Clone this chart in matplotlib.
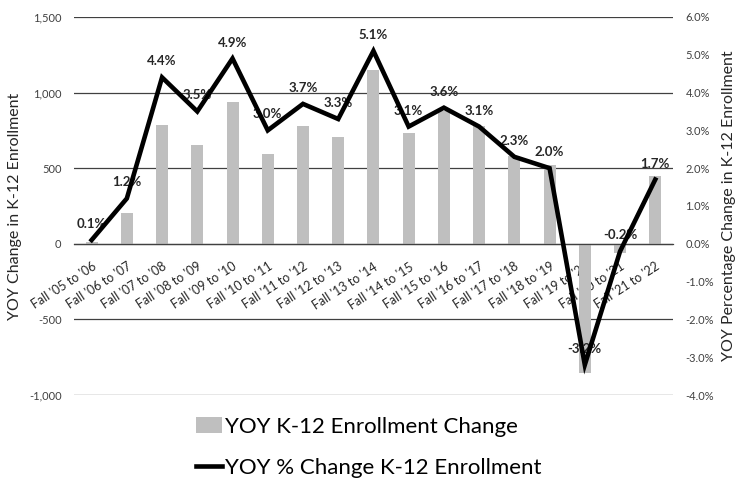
import matplotlib
matplotlib.use("Agg")
import matplotlib.pyplot as plt
from matplotlib.patches import Patch
from matplotlib.lines import Line2D

plt.rcParams['font.family'] = ['Lato', 'DejaVu Sans']

# data
periods = ["Fall '05 to '06", "Fall '06 to '07", "Fall '07 to '08", "Fall '08 to '09",
           "Fall '09 to '10", "Fall '10 to '11", "Fall '11 to '12", "Fall '12 to '13",
           "Fall '13 to '14", "Fall '14 to '15", "Fall '15 to '16", "Fall '16 to '17",
           "Fall '17 to '18", "Fall '18 to '19", "Fall '19 to '20", "Fall '20 to '21",
           "Fall '21 to '22"]
enroll_change = [10, 207, 786, 656, 938, 596, 777, 704, 1146, 733, 880, 777, 578, 519, -852, -62, 450]
pct_change = [0.1, 1.2, 4.4, 3.5, 4.9, 3.0, 3.7, 3.3, 5.1, 3.1, 3.6, 3.1, 2.3, 2.0, -3.2, -0.2, 1.7]

BAR_COL = '#bfbfbf'
GRID_COL = '#404040'
TXT_COL = '#404040'

fig = plt.figure(figsize=(7.37, 4.83), dpi=100)
ax = fig.add_axes([0.1004, 0.182, 0.8126, 0.783])
ax2 = ax.twinx()

x = list(range(len(periods)))
ax.bar(x, enroll_change, width=0.34, color=BAR_COL, zorder=2)
ax.set_ylim(-1000, 1500)
ax.set_yticks([-1000, -500, 0, 500, 1000, 1500])
ax.set_yticklabels(['-1,000', '-500', '0', '500', '1,000', '1,500'])
ax.set_xlim(-0.5, len(periods) - 0.5)
ax.grid(axis='y', color=GRID_COL, lw=0.9, zorder=0)
ax.set_axisbelow(True)
for s in ax.spines.values():
    s.set_visible(False)
ax.spines['bottom'].set_visible(True)
ax.spines['bottom'].set_position(('data', 0))
ax.spines['bottom'].set_color(GRID_COL)
ax.spines['bottom'].set_linewidth(0.9)
ax.tick_params(axis='both', length=0, labelsize=8, colors=TXT_COL, pad=9)
ax.set_xticks(x)
ax.set_xticklabels(periods, rotation=33, ha='right', rotation_mode='anchor', fontsize=9)
ax.tick_params(axis='x', pad=12)
for lbl in ax.get_xticklabels():
    lbl.set_color('#262626')
ax.set_ylabel('YOY Change in K-12 Enrollment', fontsize=11.5, color='#262626', labelpad=5)

ax2.plot(x, pct_change, color='black', lw=3.3, zorder=5, solid_joinstyle='miter')
ax2.set_ylim(-4, 6)
ax2.set_yticks(range(-4, 7))
ax2.set_yticklabels([f'{v:.1f}%' for v in range(-4, 7)])
for s in ax2.spines.values():
    s.set_visible(False)
ax2.tick_params(axis='y', length=0, labelsize=8, colors=TXT_COL, pad=9)
ax2.set_ylabel('YOY Percentage Change in K-12 Enrollment', fontsize=11.5, color='#262626', labelpad=6)

for xi, v in zip(x, pct_change):
    ax2.annotate(f'{v:.1f}%', (xi, v), xytext=(0, 11.5), textcoords='offset points',
                 ha='center', va='center', fontsize=9.5, fontweight='bold',
                 color='#262626', zorder=3)

handles = [Patch(facecolor=BAR_COL, edgecolor='none'),
           Line2D([0], [0], color='black', lw=3.3)]
fig.legend(handles, ['YOY K-12 Enrollment Change', 'YOY % Change K-12 Enrollment'],
           loc='upper center', bbox_to_anchor=(0.5, 0.178), ncol=1, frameon=False,
           fontsize=16, handlelength=1.2, handletextpad=0.1, labelspacing=0.95,
           labelcolor='black')

fig.savefig('out.png', dpi=100)
